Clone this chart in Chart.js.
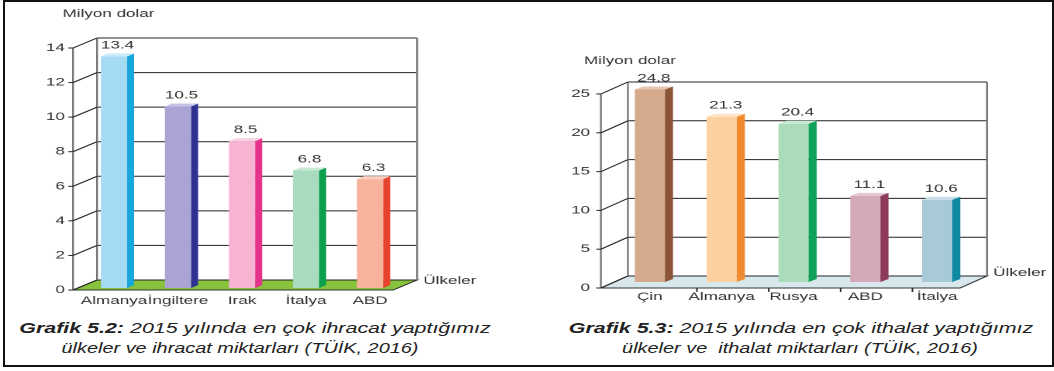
<html>
<head>
  <meta charset="utf-8">
  <script src="https://cdn.jsdelivr.net/npm/chart.js@4/dist/chart.umd.min.js"></script>
  <style>
    body { margin: 0; background: #fff; width: 1054px; height: 371px; overflow: hidden; position: relative; }
    .frame { position: absolute; left: 3px; top: 0; width: 1051px; height: 367px; box-sizing: border-box; border: 2px solid #111; }
    .plot { position: absolute; top: 0; height: 315px; transform: scaleX(1.55); transform-origin: 0 0; }
    .cap { position: absolute; text-align: center; font-family: "Liberation Sans", Arial, sans-serif;
      font-style: italic; font-size: 14px; line-height: 20px; color: #222; white-space: nowrap; }
  </style>
</head>
<body>
<div class="frame"></div>
<div class="plot" style="left:0; width:336px;"><canvas id="ihracat"></canvas></div>
<div class="plot" style="left:540px; width:332px;"><canvas id="ithalat"></canvas></div>
<div class="cap" style="left:5px; width:500px; top:318px; transform:scaleX(1.53);"><b>Grafik 5.2:</b> 2015 yılında en çok ihracat yaptığımız</div>
<div class="cap" style="left:0; width:480px; top:338px; transform:scaleX(1.42);">ülkeler ve ihracat miktarları (TÜİK, 2016)</div>
<div class="cap" style="left:551px; width:500px; top:318px; transform:scaleX(1.53);"><b>Grafik 5.3:</b> 2015 yılında en çok ithalat yaptığımız</div>
<div class="cap" style="left:550px; width:500px; top:338px; transform:scaleX(1.42);">ülkeler ve &nbsp;ithalat miktarları (TÜİK, 2016)</div>

<script>
// Grafik 5.2 - ihracat
const exportCountries = ['Almanya', 'İngiltere', 'Irak', 'İtalya', 'ABD'];
const exportValues = [13.4, 10.5, 8.5, 6.8, 6.3];
const exportTicks = [0, 2, 4, 6, 8, 10, 12, 14];

// Grafik 5.3 - ithalat
const importCountries = ['Çin', 'Almanya', 'Rusya', 'ABD', 'İtalya'];
const importValues = [24.8, 21.3, 20.4, 11.1, 10.6];
const importTicks = [0, 5, 10, 15, 20, 25];

const exportFace = ['#a6dbf4', '#aaa4d4', '#f6b4d2', '#a9dbbf', '#f7b39c'];
const exportTop = ['#c9ebfb', '#c8c3e6', '#fad0e3', '#c9ead7', '#fbcfbf'];
const exportSide = ['#16a7df', '#2e3192', '#e4338b', '#0b9f4e', '#e8432d'];
const importFace = ['#d5aa8c', '#fdd0a2', '#aadcbb', '#d3a8b7', '#a8cad7'];
const importTop = ['#e6c6b0', '#fee2c4', '#c8ead3', '#e4c6d0', '#c8dee7'];
const importSide = ['#8b5535', '#f08a2f', '#10a25a', '#8e3a5d', '#0f8aa0'];

Chart.defaults.font.family = '"Liberation Sans", Arial, sans-serif';
Chart.defaults.font.size = 11;
Chart.defaults.color = '#333';

function line(ctx, x1, y1, x2, y2) {
  ctx.beginPath();
  ctx.moveTo(x1, y1);
  ctx.lineTo(x2, y2);
  ctx.stroke();
}

// fake 3d: floor, back wall, slanted axis, bar sides and tops
const box3d = {
  id: 'box3d',
  beforeDatasetsDraw(chart, args, o) {
    const ctx = chart.ctx, ys = chart.scales.y, a = chart.chartArea;
    const F = o.F, B = o.B;
    const y0 = ys.getPixelForValue(0);
    const yTop = ys.getPixelForValue(ys.max);
    ctx.save();
    ctx.beginPath();
    ctx.moveTo(a.left + F.dx, y0 + F.dy);
    ctx.lineTo(a.right + F.dx, y0 + F.dy);
    ctx.lineTo(a.right + B.dx, y0 + B.dy);
    ctx.lineTo(a.left + B.dx, y0 + B.dy);
    ctx.closePath();
    ctx.fillStyle = o.floor;
    ctx.fill();
    ctx.strokeStyle = '#333';
    ctx.lineWidth = 1;
    ctx.stroke();

    ctx.strokeStyle = '#222';
    ys.ticks.forEach(t => {
      const py = ys.getPixelForValue(t.value);
      line(ctx, a.left + B.dx, py + B.dy, a.right + B.dx, py + B.dy);
    });
    ctx.strokeStyle = '#777';
    ctx.lineWidth = 1.2;
    line(ctx, a.left + B.dx, yTop + B.dy, a.left + B.dx, y0 + B.dy);
    line(ctx, a.right + B.dx, yTop + B.dy, a.right + B.dx, y0 + B.dy);
    line(ctx, a.left + F.dx, yTop + F.dy, a.left + F.dx, y0 + F.dy);

    ctx.strokeStyle = '#222';
    ctx.lineWidth = 1;
    ys.ticks.forEach(t => {
      const py = ys.getPixelForValue(t.value);
      line(ctx, a.left + F.dx - 3, py + F.dy, a.left + F.dx, py + F.dy);
      line(ctx, a.left + F.dx, py + F.dy, a.left + B.dx, py + B.dy);
    });
    if (o.floorTicks) {
      const xs = chart.scales.x;
      for (let i = 1; i < chart.data.labels.length; i++) {
        const px = xs.getPixelForValue(i - 0.5) + B.dx * 0.8;
        line(ctx, px, y0 + F.dy, px, y0 + F.dy + 4);
      }
    }
    ctx.restore();
  },
  afterDatasetsDraw(chart, args, o) {
    const ctx = chart.ctx, a = chart.chartArea, ys = chart.scales.y;
    const ds = chart.data.datasets[0];
    const D = o.depth;
    ctx.save();
    chart.getDatasetMeta(0).data.forEach((bar, i) => {
      const p = bar.getProps(['x', 'y', 'base', 'width'], true);
      const l = p.x - p.width / 2, r = p.x + p.width / 2;
      ctx.beginPath();
      ctx.moveTo(r, p.y);
      ctx.lineTo(r + D.dx, p.y + D.dy);
      ctx.lineTo(r + D.dx, p.base + D.dy);
      ctx.lineTo(r, p.base);
      ctx.closePath();
      ctx.fillStyle = o.sideColors[i];
      ctx.fill();
      ctx.beginPath();
      ctx.moveTo(l, p.y);
      ctx.lineTo(l + D.dx, p.y + D.dy);
      ctx.lineTo(r + D.dx, p.y + D.dy);
      ctx.lineTo(r, p.y);
      ctx.closePath();
      ctx.fillStyle = o.topColors[i];
      ctx.fill();
      ctx.fillStyle = '#333';
      ctx.font = '11px "Liberation Sans", Arial, sans-serif';
      ctx.textAlign = 'center';
      ctx.textBaseline = 'middle';
      ctx.fillText(ds.data[i].toFixed(1), p.x + D.dx / 2, p.y + D.dy - 8);
    });
    const y0 = ys.getPixelForValue(0);
    ctx.font = '11px "Liberation Sans", Arial, sans-serif';
    ctx.textAlign = 'left';
    ctx.fillText('Ülkeler', a.right + o.B.dx + 4, y0 + o.B.dy + o.unitDy);
    ctx.textAlign = 'center';
    ctx.fillText('Milyon dolar', o.titleX, o.titleY);
    ctx.restore();
  }
};

function makeChart(id, labels, values, ticks, max, geo) {
  return new Chart(document.getElementById(id), {
    type: 'bar',
    data: {
      labels: labels,
      datasets: [{
        data: values,
        backgroundColor: geo.faceColors,
        borderWidth: 0,
        barPercentage: geo.barPct,
        categoryPercentage: 1
      }]
    },
    options: {
      responsive: true,
      maintainAspectRatio: false,
      animation: false,
      devicePixelRatio: 2,
      layout: { padding: { top: geo.padTop, right: geo.padRight, left: 0, bottom: 0 } },
      plugins: { legend: { display: false }, tooltip: { enabled: false }, box3d: geo },
      scales: {
        x: {
          grid: { display: false, drawTicks: false },
          border: { display: false },
          ticks: { padding: geo.xPad, color: '#333', font: { size: 11 }, autoSkip: false, maxRotation: 0, minRotation: 0 },
          afterFit: s => { s.height = geo.xHeight; }
        },
        y: {
          min: 0,
          max: max,
          grid: { display: false, drawTicks: false },
          border: { display: false },
          ticks: { padding: geo.yPad, labelOffset: geo.F.dy, color: '#333', font: { size: 11 } },
          afterBuildTicks: s => { s.ticks = ticks.map(v => ({ value: v })); },
          afterFit: s => { s.width = geo.yWidth; }
        }
      }
    },
    plugins: [box3d]
  });
}

makeChart('ihracat', exportCountries, exportValues, exportTicks, 14, {
  faceColors: exportFace, topColors: exportTop, sideColors: exportSide,
  barPct: 0.41, padTop: 46, padRight: 76.6, xHeight: 27, yWidth: 52.9, xPad: 6.4, yPad: 11,
  F: { dx: -5.8, dy: 2 }, B: { dx: 9.7, dy: -8 },
  floor: '#88c33e', floorTicks: false,
  depth: { dx: 4.5, dy: -3 },
  titleX: 70, titleY: 14, unitDy: 1
});

makeChart('ithalat', importCountries, importValues, importTicks, 25, {
  faceColors: importFace, topColors: importTop, sideColors: importSide,
  barPct: 0.42, padTop: 88, padRight: 52.6, xHeight: 33, yWidth: 47.7, xPad: 8.4, yPad: 15.4,
  F: { dx: -8.4, dy: 6 }, B: { dx: 9, dy: -6 },
  floor: '#d7e7ec', floorTicks: true,
  depth: { dx: 5.2, dy: -3 },
  titleX: 58, titleY: 61, unitDy: -3
});
</script>
</body>
</html>
